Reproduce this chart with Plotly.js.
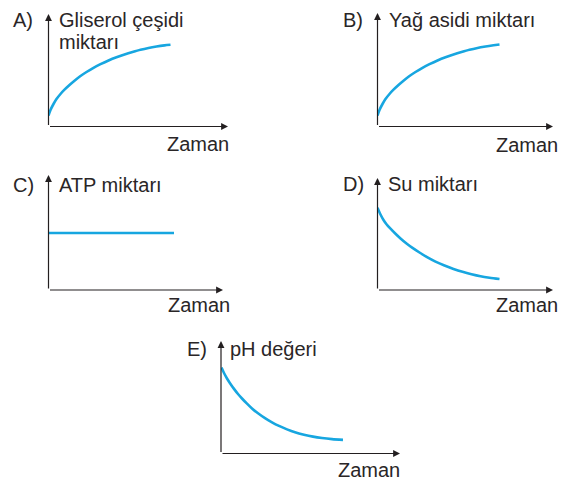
<!DOCTYPE html>
<html>
<head>
<meta charset="utf-8">
<script src="https://cdn.plot.ly/plotly-3.0.1.min.js"></script>
<style>html,body{margin:0;padding:0;background:#fff;}#chart{width:569px;height:482px;}</style>
</head>
<body>
<div id="chart"></div>
<script>
// ---- data (units) ----
const panelLetters = ["A)", "B)", "C)", "D)", "E)"];
const yTitles = [["Gliserol çeşidi", "miktarı"], ["Yağ asidi miktarı"], ["ATP miktarı"], ["Su miktarı"], ["pH değeri"]];
const xTitle = "Zaman";

const glyceroTime  = [0, 0.2, 0.5, 0.8, 1.2, 1.6, 2.1, 2.6, 3.2, 3.8, 4.5, 5.2, 6.0, 6.8, 7.6, 8.4, 9.2, 10.0, 10.8, 11.6, 12.2];
const glyceroValue = [1.1, 1.65, 2.25, 2.75, 3.25, 3.68, 4.15, 4.58, 5.05, 5.45, 5.87, 6.23, 6.6, 6.92, 7.2, 7.45, 7.68, 7.86, 8.0, 8.11, 8.17];

const fattyTime  = [0, 0.2, 0.5, 0.8, 1.2, 1.6, 2.1, 2.6, 3.2, 3.8, 4.5, 5.2, 6.0, 6.8, 7.6, 8.4, 9.2, 10.0, 10.8, 11.6, 12.2];
const fattyValue = [1.1, 1.65, 2.25, 2.75, 3.25, 3.68, 4.15, 4.58, 5.05, 5.45, 5.87, 6.23, 6.6, 6.92, 7.2, 7.45, 7.68, 7.86, 8.0, 8.12, 8.2];

const atpTime  = [0, 12.55];
const atpValue = [5.7, 5.7];

const waterTime  = [0, 0.3, 0.6, 0.9, 1.3, 1.8, 2.3, 2.9, 3.5, 4.2, 5.0, 5.8, 6.7, 7.6, 8.5, 9.4, 10.3, 11.2, 12.2];
const waterValue = [8.23, 7.55, 7.0, 6.58, 6.13, 5.62, 5.15, 4.65, 4.21, 3.75, 3.26, 2.84, 2.45, 2.11, 1.82, 1.58, 1.38, 1.23, 1.1];

const phTime  = [0.05, 0.3, 0.6, 0.9, 1.3, 1.7, 2.1, 2.6, 3.1, 3.7, 4.4, 5.1, 5.8, 6.6, 7.4, 8.3, 9.2, 10.1, 11.1, 12.2];
const phValue = [8.6, 8.05, 7.5, 7.03, 6.46, 5.95, 5.5, 4.98, 4.5, 4.02, 3.53, 3.12, 2.76, 2.41, 2.12, 1.88, 1.69, 1.55, 1.44, 1.36];

const seriesTimes  = [glyceroTime, fattyTime, atpTime, waterTime, phTime];
const seriesValues = [glyceroValue, fattyValue, atpValue, waterValue, phValue];

// ---- layout geometry (pixels) ----
const W = 569, H = 482;
const geom = [
  {ox: 48.5, oy: 126.5, xe: 228, yt: 14,  letterX: 13,  titleX: 59,  base: 27,  zamanR: 229, zamanBase: 151},
  {ox: 377.5, oy: 126.5, xe: 553, yt: 13, letterX: 343, titleX: 389, base: 27,  zamanR: 558, zamanBase: 152},
  {ox: 48.5, oy: 290, xe: 223, yt: 175,   letterX: 13,  titleX: 59,  base: 192, zamanR: 230, zamanBase: 312},
  {ox: 377.5, oy: 290, xe: 553, yt: 178,  letterX: 343, titleX: 388, base: 191, zamanR: 558, zamanBase: 312},
  {ox: 221, oy: 453.5, xe: 400, yt: 341,  letterX: 187, titleX: 230, base: 356, zamanR: 400, zamanBase: 477}
];

const lineColor = "#17a6e0";
const inkColor = "#231f20";
const fontFamily = "'Liberation Sans', Arial, Helvetica, sans-serif";
const fontSize = 20;

const traces = [];
const layout = {
  width: W, height: H,
  margin: {l: 0, r: 0, t: 0, b: 0, pad: 0},
  paper_bgcolor: "#fff", plot_bgcolor: "rgba(0,0,0,0)",
  showlegend: false,
  annotations: [],
  font: {family: fontFamily, size: fontSize, color: inkColor}
};

function py(p) { return 1 - p / H; }
function txt(text, xpx, anchor, basePx) {
  return {
    xref: "paper", yref: "paper",
    x: (anchor === "left" ? xpx - 2 : xpx + 2) / W,
    y: py(basePx - 6.9),
    xanchor: anchor, yanchor: "middle",
    text: text, showarrow: false,
    font: {family: fontFamily, size: fontSize, color: "#2a2627"}
  };
}

geom.forEach((g, i) => {
  const n = i + 1;
  const xa = n === 1 ? "xaxis" : "xaxis" + n;
  const ya = n === 1 ? "yaxis" : "yaxis" + n;
  const xr = n === 1 ? "x" : "x" + n;
  const yr = n === 1 ? "y" : "y" + n;
  const Lx = (g.xe - g.ox) / 10;
  const Ly = (g.oy - g.yt) / 10;
  layout[xa] = {domain: [g.ox / W, g.xe / W], range: [0, Lx], autorange: false,
    showgrid: false, zeroline: false, showline: false, showticklabels: false, ticks: "",
    fixedrange: true, anchor: yr};
  layout[ya] = {domain: [(H - g.oy) / H, (H - g.yt) / H], range: [0, Ly], autorange: false,
    showgrid: false, zeroline: false, showline: false, showticklabels: false, ticks: "",
    fixedrange: true, anchor: xr};

  traces.push({
    type: "scatter", mode: "lines",
    x: seriesTimes[i], y: seriesValues[i],
    xaxis: xr, yaxis: yr,
    line: {color: lineColor, width: 2.6, shape: i === 2 ? "linear" : "spline", smoothing: 0.8},
    hoverinfo: "skip", cliponaxis: false
  });

  // axis arrows (x then y)
  const arrowBase = {xref: xr, yref: yr, axref: xr, ayref: yr, text: "", showarrow: true,
    arrowhead: 2, arrowsize: 1.15, arrowwidth: 1.2, arrowcolor: inkColor, standoff: 0, startstandoff: 0};
  layout.annotations.push(Object.assign({}, arrowBase, {x: Lx, y: 0, ax: 0, ay: 0}));
  layout.annotations.push(Object.assign({}, arrowBase, {x: 0, y: Ly, ax: 0, ay: 0}));

  // texts
  layout.annotations.push(txt(panelLetters[i], g.letterX, "left", g.base));
  yTitles[i].forEach((t, k) => {
    layout.annotations.push(txt(t, g.titleX, "left", g.base + k * 22));
  });
  layout.annotations.push(txt(xTitle, g.zamanR, "right", g.zamanBase));
});

Plotly.newPlot("chart", traces, layout, {staticPlot: true, displayModeBar: false});
</script>
</body>
</html>
